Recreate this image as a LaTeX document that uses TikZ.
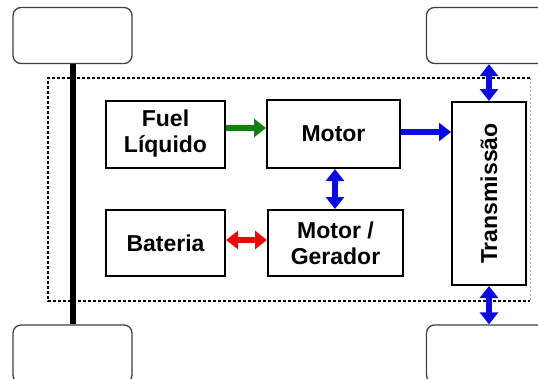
\documentclass[tikz,border=0pt]{standalone}
\usepackage{fontspec}
\setmainfont{Liberation Sans}
\usetikzlibrary{arrows.meta}
\definecolor{fgreen}{RGB}{16,128,16}
\definecolor{fblue}{RGB}{10,10,225}
\definecolor{fred}{RGB}{230,10,10}
\begin{document}
\begin{tikzpicture}[x=1pt,y=-1pt,
  box/.style={draw=black, line width=2pt, align=center, font=\fontsize{23}{26}\selectfont\bfseries, inner sep=0pt},
  lbl/.style={font=\fontsize{23}{26}\selectfont\bfseries, inner sep=0pt},
  wheel/.style={draw=black!75, line width=1.3pt, rounded corners=8pt, inner sep=0pt, minimum width=119pt, minimum height=56pt},
  flow/.style={line width=6.5pt, -{Triangle[length=12pt,width=18pt]}},
  both/.style={line width=6.5pt, {Triangle[length=12pt,width=18pt]}-{Triangle[length=12pt,width=18pt]}},
]
\useasboundingbox (0,0) rectangle (538,378);
% wheels
\node[wheel] (wtl) at (72.5,35.5) {};
\node[wheel] (wtr) at (486,35.5) {};
\node[wheel, minimum height=58pt] (wbl) at (72.5,354) {};
\node[wheel, minimum height=58pt] (wbr) at (486,354) {};
% axle
\draw[line width=6pt] (wtl.south) -- (wbl.north);
% dashed frame
\coordinate (f1) at (48,78);
\coordinate (f2) at (530,78);
\coordinate (f3) at (530,301);
\coordinate (f4) at (48,301);
\draw[line width=1.6pt, dash pattern=on 3pt off 2pt] (f2) -- (f1) -- (f4) -- (f3);
\draw[line width=1pt, black!35, dash pattern=on 2pt off 2pt] (f2) -- (f3);
% boxes
\node[box, minimum width=119pt, minimum height=67pt] (fuel) at (165.5,134) {Fuel\\Líquido};
\node[box, minimum width=133pt, minimum height=68pt] (motor) at (333.5,134) {Motor};
\node[box, minimum width=119pt, minimum height=66pt] (bat) at (165.5,243) {Bateria};
\node[box, minimum width=135pt, minimum height=66pt] (gen) at (335.5,243) {Motor /\\Gerador};
\node[box, minimum width=74pt, minimum height=183pt] (trans) at (489,193.5) {};
\node[lbl, rotate=90] (transtxt) at (trans.center) {Transmissão};
% connectors
\draw[flow, fgreen] ([yshift=6pt]fuel.east) -- ([yshift=6pt]motor.west);
\draw[flow, fblue] ([yshift=2pt]motor.east) -- ([yshift=2pt]motor.east -| trans.west);
\draw[both, fblue] ([xshift=1.5pt]motor.south) -- ([xshift=1.5pt]motor.south |- gen.north);
\draw[both, fred] ([yshift=3pt]bat.east) -- ([yshift=3pt]gen.west);
\draw[both, fblue] (trans.north) -- (trans.north |- wtr.south);
\draw[both, fblue] (trans.south) -- (trans.south |- wbr.north);
\end{tikzpicture}
\end{document}
